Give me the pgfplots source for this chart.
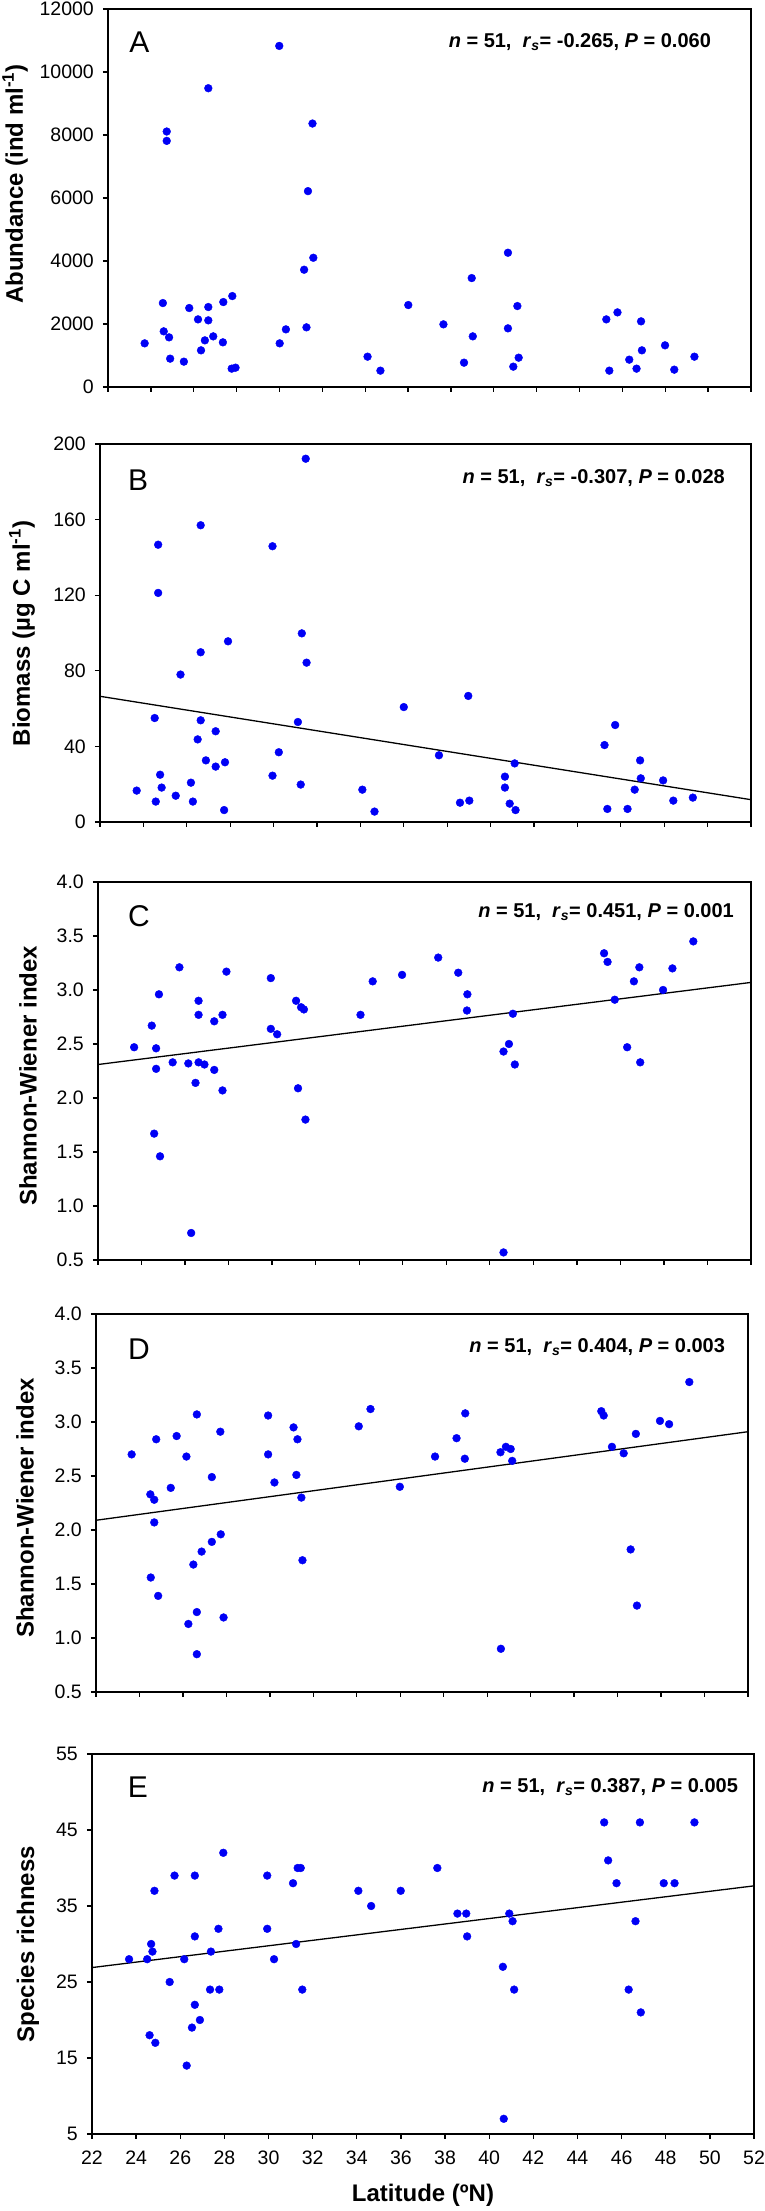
\documentclass[border=0pt]{standalone}
\usepackage{pgfplots}
\pgfplotsset{compat=1.18}
\usepackage{fontspec}
\setmainfont{Liberation Sans}
\definecolor{dotblue}{RGB}{0,0,245}
\newcommand\tickfont{\fontsize{19.5}{20}\selectfont}
\newcommand\labfont{\fontsize{24}{26}\selectfont\bfseries}
\newcommand\annfont{\fontsize{20}{22}\selectfont\bfseries}
\newcommand\letfont{\fontsize{30}{32}\selectfont}
\pgfplotsset{
  panel/.style={
    scale only axis,
    xmin=22, xmax=52,
    xtick={22,24,...,52},
    tick align=outside,
    xtick pos=left, ytick pos=left,
    major tick length=5pt,
    axis line style={line width=1.3pt, black},
    every tick/.style={line width=1.3pt, black},
    tick label style={font=\tickfont},
    /pgf/number format/assume math mode=true,
    yticklabel style={anchor=east, inner sep=0pt, xshift=-9pt},
    xticklabel style={anchor=north, inner sep=0pt, yshift=-12pt},
    scaled y ticks=false,
    clip=false,
  },
  dots/.style={only marks, mark=*, mark size=3.9pt, mark options={draw=dotblue, fill=dotblue}},
  regline/.style={black, line width=1.3pt, no marks},
}
\begin{document}
\begin{tikzpicture}
\path (0,0) rectangle (765pt,2211pt);
% ---------------- A
\begin{axis}[panel, at={(108pt,1824pt)}, anchor=south west, width=643pt, height=378pt,
  ymin=0, ymax=12000, ytick={0,2000,...,12000}, xticklabels={},
  /pgf/number format/set thousands separator={},
  ylabel={Abundance (ind ml\textsuperscript{-1})},
  ylabel style={font=\labfont, at={(axis description cs:-0.1446,0.537)}, anchor=center, rotate=0}]
\addplot[dots] coordinates {(23.71,1385) (24.56,2664) (24.60,1766) (24.74,8110) (24.74,7813) (24.85,1575) (24.90,899) (25.54,804) (25.79,2506) (26.20,2146) (26.34,1163) (26.52,1480) (26.68,2538) (26.68,2115) (26.68,9484) (26.91,1607) (27.36,1417) (27.38,2696) (27.80,2886) (27.77,582) (27.95,613) (29.99,10827) (30.01,1385) (30.30,1829) (31.15,3722) (31.26,1893) (31.33,6217) (31.54,8363) (31.58,4102) (34.11,962) (34.71,518) (36.01,2601) (37.65,1988) (38.61,772) (38.97,3457) (39.02,1607) (40.66,4261) (40.66,1861) (40.91,645) (41.10,2569) (41.16,930) (45.25,2146) (45.39,518) (45.77,2368) (46.32,867) (46.66,582) (46.87,2083) (46.91,1163) (47.99,1322) (48.42,550) (49.36,962)};
\node[font=\letfont, anchor=west, inner sep=0pt] at (axis description cs:0.033,0.913) {A};
\node[font=\annfont, anchor=east, inner sep=0pt] at (axis description cs:0.938,0.913) {\textit{n} = 51,\ \ \textit{r}\textsubscript{\textit{s}}= -0.265, \textit{P} = 0.060};
\end{axis}
% ---------------- B
\begin{axis}[panel, at={(100pt,1389pt)}, anchor=south west, width=651pt, height=378pt,
  ymin=0, ymax=200, ytick={0,40,...,200}, xticklabels={},
  ylabel={Biomass (µg C ml\textsuperscript{-1})},
  ylabel style={font=\labfont, at={(axis description cs:-0.1198,0.499)}, anchor=center}]
\addplot[regline] coordinates {(22,66.5) (52,11.8)};
\addplot[dots] coordinates {(23.69,16.6) (24.52,55.0) (24.57,10.8) (24.68,146.7) (24.68,121.2) (24.77,25.0) (24.84,18.2) (25.49,13.9) (25.71,78.0) (26.19,20.8) (26.28,10.8) (26.50,43.7) (26.64,157.0) (26.64,89.8) (26.64,53.8) (26.88,32.6) (27.33,48.0) (27.33,29.3) (27.72,6.3) (27.76,31.6) (27.90,95.6) (29.95,145.9) (29.95,24.5) (30.24,36.9) (31.12,52.9) (31.25,19.8) (31.30,99.8) (31.48,192.2) (31.52,84.3) (34.09,17.1) (34.65,5.5) (36.00,60.8) (37.62,35.3) (38.59,10.2) (38.97,66.7) (39.02,11.3) (40.66,24.0) (40.66,18.2) (40.88,9.7) (41.11,31.0) (41.15,6.3) (45.25,40.7) (45.38,6.9) (45.74,51.3) (46.31,6.9) (46.64,17.1) (46.89,32.6) (46.92,23.1) (47.95,22.0) (48.42,11.3) (49.32,12.9)};
\node[font=\letfont, anchor=west, inner sep=0pt] at (axis description cs:0.043,0.905) {B};
\node[font=\annfont, anchor=east, inner sep=0pt] at (axis description cs:0.960,0.910) {\textit{n} = 51,\ \ \textit{r}\textsubscript{\textit{s}}= -0.307, \textit{P} = 0.028};
\end{axis}
% ---------------- C
\begin{axis}[panel, at={(98pt,951pt)}, anchor=south west, width=653pt, height=378pt,
  ymin=0.5, ymax=4, ytick={0.5,1,...,4}, xticklabels={},
  yticklabel style={/pgf/number format/.cd, fixed, fixed zerofill, precision=1},
  ylabel={Shannon-Wiener index},
  ylabel style={font=\labfont, at={(axis description cs:-0.1072,0.487)}, anchor=center}]
\addplot[regline] coordinates {(22,2.31) (52,3.07)};
\addplot[dots] coordinates {(23.66,2.47) (24.47,2.67) (24.67,2.46) (24.67,2.27) (24.80,2.96) (24.58,1.67) (24.85,1.46) (25.43,2.33) (25.74,3.21) (26.15,2.32) (26.28,0.75) (26.48,2.14) (26.62,2.90) (26.62,2.77) (26.62,2.33) (26.89,2.31) (27.34,2.71) (27.34,2.26) (27.72,2.77) (27.72,2.07) (27.90,3.17) (29.94,3.11) (29.94,2.64) (30.23,2.59) (31.10,2.90) (31.19,2.09) (31.33,2.84) (31.46,2.82) (31.53,1.80) (34.06,2.77) (34.62,3.08) (35.97,3.14) (37.63,3.30) (38.55,3.16) (38.95,2.81) (38.97,2.96) (40.63,2.43) (40.63,0.57) (40.88,2.50) (41.06,2.78) (41.15,2.31) (45.25,3.34) (45.41,3.26) (45.74,2.91) (46.31,2.47) (46.62,3.08) (46.87,3.21) (46.91,2.33) (47.96,3.00) (48.39,3.20) (49.35,3.45)};
\node[font=\letfont, anchor=west, inner sep=0pt] at (axis description cs:0.046,0.91) {C};
\node[font=\annfont, anchor=east, inner sep=0pt] at (axis description cs:0.974,0.92) {\textit{n} = 51,\ \ \textit{r}\textsubscript{\textit{s}}= 0.451, \textit{P} = 0.001};
\end{axis}
% ---------------- D
\begin{axis}[panel, at={(96pt,519pt)}, anchor=south west, width=652pt, height=378pt,
  ymin=0.5, ymax=4, ytick={0.5,1,...,4}, xticklabels={},
  yticklabel style={/pgf/number format/.cd, fixed, fixed zerofill, precision=1},
  ylabel={Shannon-Wiener index},
  ylabel style={font=\labfont, at={(axis description cs:-0.1089,0.487)}, anchor=center}]
\addplot[regline] coordinates {(22,2.09) (52,2.91)};
\addplot[dots] coordinates {(23.64,2.70) (24.50,2.33) (24.68,2.28) (24.77,2.84) (24.68,2.07) (24.52,1.56) (24.86,1.39) (25.44,2.39) (25.71,2.87) (26.16,2.68) (26.25,1.13) (26.48,1.68) (26.64,3.07) (26.64,1.24) (26.64,0.85) (26.86,1.80) (27.33,2.49) (27.33,1.89) (27.72,2.91) (27.74,1.96) (27.87,1.19) (29.92,3.06) (29.92,2.70) (30.21,2.44) (31.09,2.95) (31.22,2.51) (31.27,2.84) (31.45,2.30) (31.50,1.72) (34.09,2.96) (34.63,3.12) (35.98,2.40) (37.60,2.68) (38.59,2.85) (38.97,2.66) (38.99,3.08) (40.61,2.72) (40.63,0.90) (40.86,2.77) (41.08,2.75) (41.15,2.64) (45.25,3.10) (45.36,3.06) (45.74,2.77) (46.28,2.71) (46.60,1.82) (46.84,2.89) (46.89,1.30) (47.95,3.01) (48.37,2.98) (49.30,3.37)};
\node[font=\letfont, anchor=west, inner sep=0pt] at (axis description cs:0.049,0.908) {D};
\node[font=\annfont, anchor=east, inner sep=0pt] at (axis description cs:0.965,0.913) {\textit{n} = 51,\ \ \textit{r}\textsubscript{\textit{s}}= 0.404, \textit{P} = 0.003};
\end{axis}
% ---------------- E
\begin{axis}[panel, at={(92pt,77pt)}, anchor=south west, width=662pt, height=380pt,
  ymin=5, ymax=55, ytick={5,15,...,55},
  ylabel={Species richness},
  ylabel style={font=\labfont, at={(axis description cs:-0.0967,0.5)}, anchor=center},
  xlabel={Latitude (ºN)},
  xlabel style={font=\labfont, at={(axis description cs:0.5,-0.1605)}, anchor=center}]
\addplot[regline] coordinates {(22,26.9) (52,37.65)};
\addplot[dots] coordinates {(23.68,28) (24.50,28) (24.68,30) (24.74,29) (24.83,37) (24.61,18) (24.87,17) (25.52,25) (25.74,39) (26.18,28) (26.29,14) (26.53,19) (26.66,39) (26.66,31) (26.66,22) (26.89,20) (27.35,24) (27.39,29) (27.73,32) (27.77,24) (27.95,42) (29.94,39) (29.94,32) (30.25,28) (31.11,38) (31.25,30) (31.32,40) (31.46,40) (31.53,24) (34.07,37) (34.65,35) (35.99,37) (37.65,40) (38.56,34) (38.96,34) (39.00,31) (40.62,27) (40.66,7) (40.91,34) (41.06,33) (41.13,24) (45.21,46) (45.39,41) (45.77,38) (46.32,24) (46.63,33) (46.83,46) (46.87,21) (47.91,38) (48.40,38) (49.30,46)};
\node[font=\letfont, anchor=west, inner sep=0pt] at (axis description cs:0.054,0.913) {E};
\node[font=\annfont, anchor=east, inner sep=0pt] at (axis description cs:0.976,0.913) {\textit{n} = 51,\ \ \textit{r}\textsubscript{\textit{s}}= 0.387, \textit{P} = 0.005};
\end{axis}
\pgfresetboundingbox
\path[use as bounding box] (0,0) rectangle (765pt,2211pt);
\end{tikzpicture}
\end{document}
